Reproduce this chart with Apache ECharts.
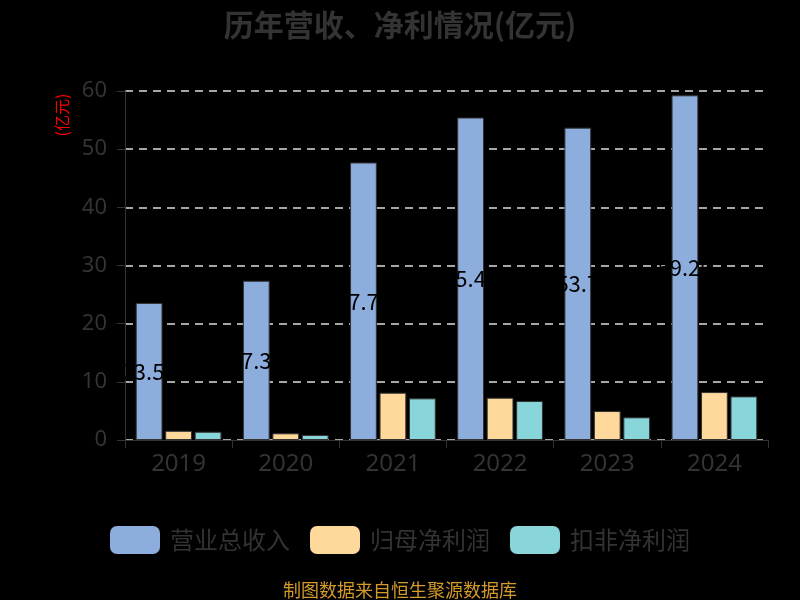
<!DOCTYPE html>
<html>
<head>
<meta charset="utf-8">
<script src="https://cdn.jsdelivr.net/npm/echarts@6/dist/echarts.min.js"></script>
<style>
html, body { margin: 0; padding: 0; background: #000; }
#chart { width: 800px; height: 600px; }
</style>
</head>
<body>
<div id="chart"></div>
<script>
var years = ['2019', '2020', '2021', '2022', '2023', '2024'];
var revenue = [23.57, 27.38, 47.71, 55.44, 53.70, 59.26];
var netProfit = [1.58, 1.15, 8.13, 7.27, 4.98, 8.24];
var deductedProfit = [1.42, 0.86, 7.16, 6.70, 3.90, 7.50];
var seriesNames = ['营业总收入', '归母净利润', '扣非净利润'];

var myChart = echarts.init(document.getElementById('chart'));

var option = {
    backgroundColor: '#000',
    title: {
        text: '历年营收、净利情况(亿元)',
        left: 'center',
        top: 5,
        textStyle: {
            color: '#333',
            fontSize: 30,
            fontWeight: 'bold',
            fontFamily: 'Noto Sans CJK SC'
        }
    },
    graphic: [
        {
            // 单位
            type: 'text',
            x: 62,
            y: 115,
            rotation: Math.PI / 2,
            style: {
                text: '(亿元)',
                fill: '#f00',
                fontSize: 16,
                fontFamily: 'Noto Sans CJK SC',
                textAlign: 'center',
                textVerticalAlign: 'middle'
            }
        },
        {
            // 数据来源
            type: 'text',
            left: 'center',
            bottom: 1,
            style: {
                text: '制图数据来自恒生聚源数据库',
                fill: '#d49a2a',
                fontSize: 18,
                fontFamily: 'Noto Sans CJK SC'
            }
        }
    ],
    legend: {
        data: seriesNames,
        top: 521,
        left: 'center',
        itemWidth: 50,
        itemHeight: 28,
        itemGap: 20,
        itemStyle: { borderWidth: 0 },
        textStyle: {
            color: '#333',
            fontSize: 24,
            fontFamily: 'Noto Sans CJK SC',
            padding: [0, 0, 0, 5]
        }
    },
    grid: {
        left: 125,
        right: 32,
        top: 91,
        bottom: 160
    },
    xAxis: {
        type: 'category',
        data: years,
        axisLine: { lineStyle: { color: '#333' } },
        axisTick: { show: true, length: 8, lineStyle: { color: '#333' } },
        axisLabel: { color: '#333', fontSize: 24, margin: 12, fontFamily: 'Noto Sans' }
    },
    yAxis: {
        type: 'value',
        min: 0,
        max: 60,
        interval: 10,
        axisLine: { show: true, lineStyle: { color: '#333' } },
        axisTick: { show: true, length: 8, lineStyle: { color: '#333' } },
        axisLabel: { color: '#333', fontSize: 22, margin: 18, fontFamily: 'Noto Sans' },
        splitLine: { lineStyle: { color: '#ddd', type: [8, 6], width: 1.5 } }
    },
    series: [
        {
            name: seriesNames[0],
            type: 'bar',
            data: revenue,
            barGap: '10%',
            barCategoryGap: '20%',
            itemStyle: { color: '#8daddc', borderColor: '#333', borderWidth: 1 },
            label: {
                show: true,
                position: 'inside',
                color: '#000',
                textBorderColor: 'transparent',
                textBorderWidth: 0,
                fontSize: 22,
                fontFamily: 'Noto Sans CJK SC'
            }
        },
        {
            name: seriesNames[1],
            type: 'bar',
            data: netProfit,
            itemStyle: { color: '#ffd99b', borderColor: '#333', borderWidth: 1 }
        },
        {
            name: seriesNames[2],
            type: 'bar',
            data: deductedProfit,
            itemStyle: { color: '#88d6d9', borderColor: '#333', borderWidth: 1 }
        }
    ]
};

myChart.setOption(option);
</script>
</body>
</html>
